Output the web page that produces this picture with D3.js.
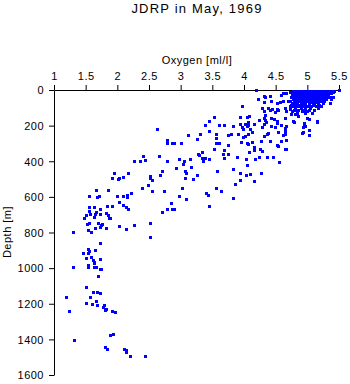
<!DOCTYPE html>
<html><head><meta charset="utf-8">
<script src="https://cdn.jsdelivr.net/npm/d3@7"></script>
<style>
body{margin:0;background:#fff}
svg{display:block}
text{font-family:"Liberation Sans",Arial,Helvetica,sans-serif;fill:#000}
</style>
</head><body>
<svg id="chart" width="350" height="384"></svg>
<script>
const chartTitle = "JDRP in May, 1969";
const xTitle = "Oxygen [ml/l]";
const yTitle = "Depth [m]";
const oxygenTicks = [1, 1.5, 2, 2.5, 3, 3.5, 4, 4.5, 5, 5.5];
const depthTicks = [0, 200, 400, 600, 800, 1000, 1200, 1400, 1600];

// [oxygen ml/l, depth m]
const surfaceDense = [
 [4.78,3],[4.84,3],[4.90,3],[4.95,3],[5.00,3],[5.05,3],[5.10,3],[5.15,3],[5.20,3],[5.26,3],[5.31,3],[5.37,3],[5.42,3],
 [4.81,7],[4.87,6],[4.93,7],[4.98,6],[5.03,7],[5.08,6],[5.13,7],[5.18,6],[5.23,7],[5.28,6],[5.34,7],[5.39,6],
 [4.76,10],[4.81,10],[4.87,10],[4.92,10],[4.98,10],[5.03,10],[5.08,10],[5.13,10],[5.19,10],[5.24,10],[5.29,10],[5.35,10],[5.40,10],
 [4.78,14],[4.83,14],[4.89,14],[4.94,15],[5.00,14],[5.05,14],[5.10,15],[5.15,14],[5.21,14],[5.26,15],[5.31,14],[5.36,14],
 [4.80,18],[4.85,18],[4.91,18],[4.96,18],[5.01,18],[5.06,18],[5.12,18],[5.17,18],[5.22,18],[5.28,18],[5.33,18],[5.38,18],
 [4.77,22],[4.83,22],[4.90,23],[4.96,22],[5.02,22],[5.08,23],[5.14,22],[5.19,22],[5.25,23],[5.31,22],
 [4.75,26],[4.82,26],[4.88,26],[4.94,26],[4.99,26],[5.04,26],[5.10,26],[5.15,26],[5.21,26],[5.27,26],[5.32,26],
 [4.80,30],[4.89,30],[4.95,31],[5.01,30],[5.07,30],[5.12,31],[5.17,30],[5.23,30],[5.28,31],
 [4.78,34],[4.86,34],[4.92,34],[4.97,34],[5.02,34],[5.08,34],[5.14,34],[5.19,34],[5.25,34],[5.30,34],
 [4.83,38],[4.90,38],[4.99,38],[5.05,39],[5.11,38],[5.16,38],[5.22,39],[5.36,38],
 [4.74,42],[4.80,42],[4.89,42],[4.95,42],[5.01,42],[5.06,42],[5.12,42],[5.18,42],[5.24,42],[5.33,42],[5.40,42],
 [4.81,47],[4.87,47],[4.94,47],[5.00,47],[5.13,47],[5.19,47],[5.26,47],
 [4.77,52],[4.84,52],[4.91,52],[4.98,52],[5.04,52],[5.10,52],[5.16,52],[5.22,52],[5.29,52],[5.37,52],
 [4.83,57],[4.90,57],[5.02,57],[5.09,57],[5.15,57],[5.24,57],
 [4.72,62],[4.80,62],[4.87,62],[4.94,62],[5.00,62],[5.07,62],[5.13,62],[5.20,62],[5.27,62],
 [4.79,67],[4.93,67],[5.05,67],[5.14,67],
 [4.76,72],[4.83,72],[4.90,72],[4.96,72],[5.03,72],[5.09,72],[5.17,72],[5.24,72],[5.36,71],
 [4.74,82],[4.80,82],[4.88,82],[4.95,82],[5.02,82],[5.10,82],[5.18,82],
 [4.77,92],[4.85,92],[4.92,92],[4.99,92],[5.06,92],[5.14,92],[5.22,92],
 [4.73,100],[4.81,100],[4.90,100],[4.97,100],[5.05,100],[5.17,99],
 [4.79,110],[4.86,110],[4.94,110],[5.02,110],[5.10,110],
 [4.76,120],[4.84,120],[4.92,120],[5.00,120],
 [4.83,130],[4.97,130],[5.07,130],[5.50,0]
];

const upperSamples = [
 [4.19,2],[4.62,19],[4.67,19],[4.73,11],[4.75,15],[4.59,28],[4.22,52],[4.31,34],[4.33,41],[4.41,34],
 [4.32,67],[4.43,60],[4.52,71],[4.57,67],[4.62,63],[4.70,62],[4.28,99],[4.31,118],[4.38,99],[4.41,112],
 [4.44,105],[4.52,105],[4.54,112],[4.49,124],[4.65,101],[4.67,116],[4.73,90],[4.73,108],[4.33,142],[4.31,155],
 [4.33,168],[4.23,170],[4.43,155],[4.48,164],[4.52,174],[4.65,155],[4.74,137],[4.07,180],
 [4.80,137],[4.85,146],[4.99,155],[5.02,164],[5.15,174],[4.78,174],[4.94,183],
 [4.79,180],[5.16,180],[4.95,195],[4.96,202],[4.93,208],[5.02,226],[4.93,236],[4.91,240],[5.03,254],
 [4.28,208],[4.32,189],[4.34,180],[4.42,202],[4.49,208],[4.52,183],[4.59,195],[4.67,202],[4.65,213],
 [3.99,264],[4.32,258],[4.36,245],[4.38,241],[4.54,236],[4.64,232],[4.65,245],[4.62,254],[4.16,320],
 [4.27,288],[4.41,288],[4.52,311],[4.54,314],[4.59,288],[4.67,282],[4.64,329],[4.67,333]
];

const middleSamples = [
 [3.97,92],[3.53,153],[3.45,176],[3.39,198],[3.61,198],[3.69,198],[3.83,202],[3.93,152],[4.04,150],[4.08,148],
 [3.93,189],[4.02,189],[4.04,200],[4.06,197],[3.99,219],[3.97,210],[4.09,220],[4.16,193],[3.44,232],[3.55,247],
 [3.56,271],[3.75,253],[3.80,249],[3.91,245],[4.02,256],[4.07,245],[4.13,237],[3.12,254],[3.30,247],[3.26,277],
 [3.01,298],[3.56,298],[3.59,298],[3.61,296],[3.75,311],[3.96,292],[4.04,298],[4.07,301],[4.13,290],[3.52,333],
 [3.69,337],[4.08,350],[4.16,337],[4.25,333],[4.28,341],[3.34,348],[3.28,359],[3.29,367],[3.67,359],[3.74,359],
 [3.89,374],[4.03,387],[4.17,387],[4.24,378],[4.37,378],[4.46,378],[4.56,402],[3.69,384],[3.06,397],[3.14,389],
 [3.33,384],[3.39,380],[3.45,387],[3.36,400],[3.03,417],[3.17,434],[3.07,453],[3.09,464],[3.25,479],[3.20,500],
 [3.07,496],[3.58,455],[3.82,445],[3.93,466],[4.04,421],[4.03,479],[4.09,473],[4.27,464],[3.93,505],[3.86,526],
 [4.15,513],[3.55,552],[3.64,569],[3.40,580],[3.43,588],[3.02,550],[3.09,614],[3.82,606],[3.45,651]
];

const lowerSamples = [
 [2.63,219],[2.79,283],[2.79,299],[2.86,299],[2.89,299],[2.41,372],[2.66,371],[2.27,399],[2.36,399],[2.44,393],
 [2.79,399],[2.97,389],[2.93,440],[2.71,455],[2.67,479],[2.52,485],[2.52,494],[2.54,507],[2.48,535],[2.39,552],
 [2.54,569],[2.73,569],[2.98,597],[2.85,636],[2.79,670],[2.86,670],[2.89,666],[2.71,683],[2.52,749],[2.52,827],
 [2.27,756],[2.13,782],[2.02,762],[2.17,668],[2.14,657],[2.09,646],[2.03,631],[2.22,580],[2.16,591],[2.16,599],
 [2.09,597],[1.99,597],[2.17,466],[2.09,490],[2.02,494],[2.01,501],[1.92,496],[1.95,468],[1.86,562],[1.84,651],
 [1.92,651],[1.82,693],[1.86,702],[1.87,721],[1.89,721],[1.76,751],[1.74,760],[1.82,777],[1.73,769],[1.70,745],
 [1.65,777],[1.58,799],[1.53,786],[1.55,745],[1.52,754],[1.48,721],[1.63,715],[1.64,698],[1.66,685],[1.73,696],
 [1.57,698],[1.51,700],[1.56,678],[1.56,659],[1.63,657],[1.72,666],[1.56,597],[1.68,602],[1.71,597],[1.66,562],
 [1.30,797]
];

const deepSamples = [
 [1.72,861],[1.54,894],[1.56,902],[1.65,900],[1.45,915],[1.54,917],[1.59,938],[1.73,947],[1.51,945],[1.62,954],
 [1.63,966],[1.63,973],[1.54,982],[1.54,995],[1.63,995],[1.67,995],[1.30,995],[1.72,1003],[1.74,1003],[1.70,1046],
 [1.51,1108],[1.19,1164],[1.62,1132],[1.68,1134],[1.72,1141],[1.57,1162],[1.66,1185],[1.51,1194],[1.60,1203],[1.68,1209],
 [1.79,1209],[1.77,1220],[1.82,1228],[1.81,1237],[1.23,1241],[1.91,1241],[1.97,1246],[1.32,1405],[1.88,1377],[1.93,1370],
 [1.81,1443],[1.84,1452],[2.11,1454],[2.14,1461],[2.14,1471],[2.20,1495],[2.43,1493]
];

const allSamples = [].concat(surfaceDense, upperSamples, middleSamples, lowerSamples, deepSamples);

const svg = d3.select("#chart");
const x = d3.scaleLinear().domain([1, 5.5]).range([54, 339]);
const y = d3.scaleLinear().domain([0, 1600]).range([90, 375]);

svg.append("text").attr("x", 197).attr("y", 13).attr("text-anchor", "middle")
  .style("font-size", "13px").style("letter-spacing", "1.2px").text(chartTitle);

const xAxis = svg.append("g").attr("transform", "translate(0,90)")
  .call(d3.axisTop(x).tickValues(oxygenTicks).tickFormat(d3.format("")).tickSize(5).tickSizeOuter(0));
const yAxis = svg.append("g").attr("transform", "translate(54,0)")
  .call(d3.axisLeft(y).tickValues(depthTicks).tickFormat(d3.format("")).tickSize(5).tickSizeOuter(0));

[xAxis, yAxis].forEach(g => {
  g.selectAll("path,line").attr("stroke", "#000");
  g.selectAll("text").style("font-size", "11px").style("letter-spacing", "0.5px")
    .style("font-family", '"Liberation Sans",Arial,sans-serif').attr("fill", "#000");
});
xAxis.selectAll("text").attr("dy", "0");
xAxis.selectAll(".tick text").attr("y", -10);
yAxis.selectAll(".tick text").attr("x", -10).attr("dy", "0.35em");

svg.append("text").attr("x", 197).attr("y", 64).attr("text-anchor", "middle")
  .style("font-size", "11px").style("letter-spacing", "0.5px").text(xTitle);
svg.append("text").attr("transform", "translate(11,232) rotate(-90)").attr("text-anchor", "middle")
  .style("font-size", "11px").style("letter-spacing", "0.5px").text(yTitle);

svg.append("g").selectAll("rect").data(allSamples).join("rect")
  .attr("x", d => Math.round(x(d[0])) - 1)
  .attr("y", d => Math.round(y(d[1])) - 1)
  .attr("width", 3).attr("height", 3)
  .attr("fill", "#0000ff");
</script>
</body></html>
